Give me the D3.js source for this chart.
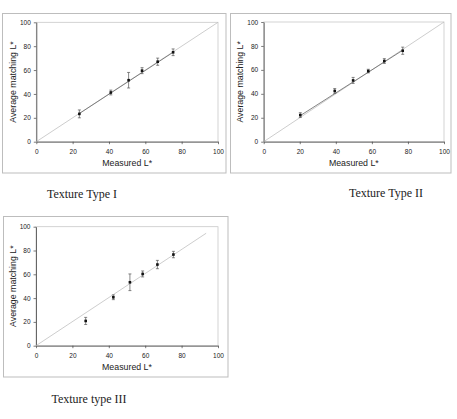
<!DOCTYPE html>
<html lang="en">
<head>
<meta charset="UTF-8">
<title>Texture Types</title>
<script src="https://d3js.org/d3.v7.min.js"></script>
<style>
    body { margin: 0; background: #fff; }
    svg { display: block; }
    .tick text { font-family: Arial, "Liberation Sans", sans-serif; font-size: 6.5px; fill: #222; }
    .axis-title { font-family: Arial, "Liberation Sans", sans-serif; font-size: 8.8px; fill: #222; }
    .caption { font-family: "Liberation Serif", "Times New Roman", serif; font-size: 12px; fill: #222; }
</style>
</head>
<body>
<script>
    // Tick values shared by all panels
    const tickValues = [0, 20, 40, 60, 80, 100];

    // Texture Type I
    const measured1 = [23.7, 41, 50.8, 58.2, 66.8, 75.3];
    const matching1 = [23.3, 41.2, 51.5, 59.5, 67, 74.9];
    const error1 = [3.3, 2, 6.5, 2.5, 3, 2.8];
    const fit1 = [[23.7, 23.6], [75.3, 74.9]];
    const diag1 = [[0, 0], [100, 100]];

    // Texture Type II
    const measured2 = [20.3, 39.4, 49.6, 58, 66.9, 77.1];
    const matching2 = [22.2, 42.4, 51.2, 59, 67.4, 76];
    const error2 = [2, 2, 2.5, 1.5, 2, 3];
    const fit2 = [[20.3, 21.8], [77.1, 76.4]];
    const diag2 = [[0, 0], [100, 100]];

    // Texture type III
    const measured3 = [27.3, 42.5, 51.6, 58.6, 66.7, 75.5];
    const matching3 = [20.8, 40.7, 53.3, 60.3, 68.2, 76.6];
    const error3 = [3, 2, 7, 2.5, 3.5, 2.7];
    const fit3 = [];
    const diag3 = [[0, 0], [93.5, 94.5]];

    const captions = ["Texture Type I", "Texture Type II", "Texture type III"];

    const W = 457, H = 419;
    const svg = d3.select("body").append("svg")
        .attr("width", W)
        .attr("height", H);

    // layout of each panel: outer frame and plot area
    const panels = [
        { box: [2.5, 13.5, 223.5, 159.5], x0: 36.3, x1: 218, y0: 141.7, y1: 22.3,
          measured: measured1, matching: matching1, error: error1, fit: fit1, diag: diag1,
          caption: captions[0], capX: 82, capY: 198 },
        { box: [230.5, 13.5, 220.5, 159.5], x0: 263.7, x1: 444, y0: 141.7, y1: 22,
          measured: measured2, matching: matching2, error: error2, fit: fit2, diag: diag2,
          caption: captions[1], capX: 386, capY: 197 },
        { box: [3.5, 216.5, 224.5, 160.5], x0: 36, x1: 218, y0: 345.7, y1: 226.7,
          measured: measured3, matching: matching3, error: error3, fit: fit3, diag: diag3,
          caption: captions[2], capX: 89, capY: 403 }
    ];

    panels.forEach(p => {
        const g = svg.append("g");

        // outer frame
        g.append("rect")
            .attr("x", p.box[0]).attr("y", p.box[1])
            .attr("width", p.box[2]).attr("height", p.box[3])
            .attr("fill", "none")
            .attr("stroke", "#bdbdbd")
            .attr("stroke-width", 1);

        const x = d3.scaleLinear().domain([0, 100]).range([p.x0, p.x1]);
        const y = d3.scaleLinear().domain([0, 100]).range([p.y0, p.y1]);

        // plot area border (top and right in grey)
        g.append("rect")
            .attr("x", p.x0).attr("y", p.y1)
            .attr("width", p.x1 - p.x0).attr("height", p.y0 - p.y1)
            .attr("fill", "none")
            .attr("stroke", "#c8c8c8")
            .attr("stroke-width", 0.8);

        // axes
        g.append("g")
            .attr("transform", `translate(0,${p.y0})`)
            .call(d3.axisBottom(x).tickValues(tickValues).tickSize(2.5).tickPadding(5).tickSizeOuter(0))
            .call(a => a.select(".domain").attr("stroke", "#444").attr("stroke-width", 0.8))
            .call(a => a.selectAll(".tick line").attr("stroke", "#444").attr("stroke-width", 0.7));

        g.append("g")
            .attr("transform", `translate(${p.x0},0)`)
            .call(d3.axisLeft(y).tickValues(tickValues).tickSize(2.5).tickPadding(3).tickSizeOuter(0))
            .call(a => a.select(".domain").attr("stroke", "#444").attr("stroke-width", 0.8))
            .call(a => a.selectAll(".tick line").attr("stroke", "#444").attr("stroke-width", 0.7));

        const line = d3.line().x(d => x(d[0])).y(d => y(d[1]));

        // identity line
        g.append("path")
            .datum(p.diag)
            .attr("d", line)
            .attr("fill", "none")
            .attr("stroke", "#c0c0c0")
            .attr("stroke-width", 0.8);

        // fitted line
        if (p.fit.length) {
            g.append("path")
                .datum(p.fit)
                .attr("d", line)
                .attr("fill", "none")
                .attr("stroke", "#666")
                .attr("stroke-width", 0.8);
        }

        const pts = p.measured.map((m, i) => ({ m, v: p.matching[i], e: p.error[i] }));

        // error bars
        const eb = g.selectAll(".eb").data(pts).enter().append("g")
            .attr("stroke", "#555")
            .attr("stroke-width", 0.7);
        eb.append("line")
            .attr("x1", d => x(d.m)).attr("x2", d => x(d.m))
            .attr("y1", d => y(d.v - d.e)).attr("y2", d => y(d.v + d.e));
        eb.append("line")
            .attr("x1", d => x(d.m) - 1.5).attr("x2", d => x(d.m) + 1.5)
            .attr("y1", d => y(d.v + d.e)).attr("y2", d => y(d.v + d.e));
        eb.append("line")
            .attr("x1", d => x(d.m) - 1.5).attr("x2", d => x(d.m) + 1.5)
            .attr("y1", d => y(d.v - d.e)).attr("y2", d => y(d.v - d.e));

        // markers
        g.selectAll(".pt").data(pts).enter().append("rect")
            .attr("x", d => x(d.m) - 1.3)
            .attr("y", d => y(d.v) - 1.3)
            .attr("width", 2.6).attr("height", 2.6)
            .attr("fill", "#111");

        // axis titles
        g.append("text")
            .attr("class", "axis-title")
            .attr("text-anchor", "middle")
            .attr("x", (p.x0 + p.x1) / 2)
            .attr("y", p.y0 + 24)
            .text("Measured L*");

        g.append("text")
            .attr("class", "axis-title")
            .attr("text-anchor", "middle")
            .attr("transform", `translate(${p.x0 - 20.5},${(p.y0 + p.y1) / 2}) rotate(-90)`)
            .text("Average matching L*");

        // caption below panel
        svg.append("text")
            .attr("class", "caption")
            .attr("text-anchor", "middle")
            .attr("x", p.capX)
            .attr("y", p.capY)
            .text(p.caption);
    });
</script>
</body>
</html>
